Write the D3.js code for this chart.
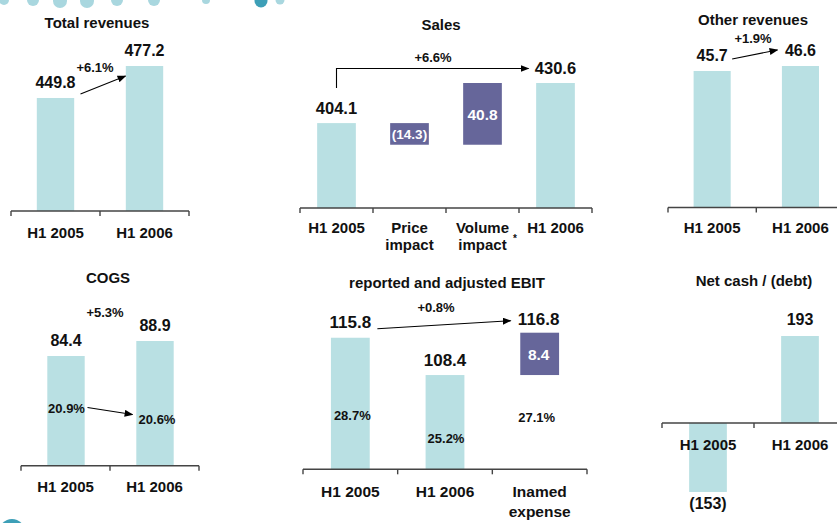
<!DOCTYPE html>
<html><head><meta charset="utf-8">
<script src="https://cdn.jsdelivr.net/npm/d3@7"></script>
<style>
body{margin:0;background:#fff}
svg{display:block}
text{font-family:'Liberation Sans',Arial,Helvetica,sans-serif;font-weight:bold;fill:#111}
</style>
</head><body>
<svg id="c" width="837" height="523"></svg>
<script>
// ---------------- data ----------------
const totalRevCategories = ["H1 2005", "H1 2006"];
const totalRevValues = [449.8, 477.2];
const totalRevChange = "+6.1%";

const salesCategories = [["H1 2005"], ["Price", "impact"], ["Volume", "impact"], ["H1 2006"]];
const salesValues = [404.1, -14.3, 40.8, 430.6];
const salesLabels = ["404.1", "(14.3)", "40.8", "430.6"];
const salesKinds = ["total", "delta", "delta", "total"];
const salesChange = "+6.6%";

const otherRevCategories = ["H1 2005", "H1 2006"];
const otherRevValues = [45.7, 46.6];
const otherRevChange = "+1.9%";

const cogsCategories = ["H1 2005", "H1 2006"];
const cogsValues = [84.4, 88.9];
const cogsShare = ["20.9%", "20.6%"];
const cogsChange = "+5.3%";

const ebitCategories = [["H1 2005"], ["H1 2006"], ["Inamed", "expense"]];
const ebitValues = [115.8, 108.4, 8.4];
const ebitAdjusted = 116.8;
const ebitMargins = ["28.7%", "25.2%", "27.1%"];
const ebitChange = "+0.8%";

const netCashCategories = ["H1 2005", "H1 2006"];
const netCashValues = [-153, 193];
const netCashLabels = ["(153)", "193"];

// ---------------- styles ----------------
const BAR = "#b9e0e3";
const PURPLE = "#66669a";
const AXIS = "#444";

const svg = d3.select("#c");

// decoration
const decoDots = [[4,0,5,"#a9d7df"],[33,0,6,"#a9d7df"],[60,1,7,"#a9d7df"],[87,1,7,"#a9d7df"],[117,0,6,"#a9d7df"],[154,0,6,"#a9d7df"],[206,0,4,"#a9d7df"],[261,1,6.5,"#3d9fb7"],[280,0,4.5,"#a9d7df"]];
svg.selectAll("circle.deco").data(decoDots).join("circle").attr("class","deco")
  .attr("cx",d=>d[0]).attr("cy",d=>d[1]).attr("r",d=>d[2]).attr("fill",d=>d[3]);
svg.append("circle").attr("cx",12).attr("cy",532).attr("r",13).attr("fill","#3d9fb7");

const defs = svg.append("defs");
defs.append("marker").attr("id","arr").attr("viewBox","0 0 10 8").attr("refX",9).attr("refY",4)
  .attr("markerWidth",9).attr("markerHeight",7).attr("markerUnits","userSpaceOnUse").attr("orient","auto")
  .append("path").attr("d","M0,0L10,4L0,8Z").attr("fill","#000");

function drawAxis(g, band, y) {
  const [a, b] = band.range();
  g.append("line").attr("x1", a).attr("x2", b).attr("y1", y).attr("y2", y)
    .attr("stroke", AXIS).attr("stroke-width", 1.4);
  const bounds = band.domain().map(d => band(d)).concat([b]);
  g.selectAll("line.tick").data(bounds).join("line").attr("class", "tick")
    .attr("x1", d => d).attr("x2", d => d).attr("y1", y).attr("y2", y + 5)
    .attr("stroke", AXIS).attr("stroke-width", 1.4);
}
function catLabels(g, band, cats, y, size, lh) {
  cats.forEach((c, i) => {
    const lines = Array.isArray(c) ? c : [c];
    const t = g.append("text").attr("text-anchor", "middle").attr("font-size", size)
      .attr("x", band(band.domain()[i]) + band.bandwidth() / 2).attr("y", y);
    lines.forEach((l, j) => t.append("tspan").attr("x", band(band.domain()[i]) + band.bandwidth() / 2)
      .attr("dy", j === 0 ? 0 : lh).text(l));
  });
}
function txt(g, x, y, s, size, fill, anchor) {
  return g.append("text").attr("x", x).attr("y", y).attr("font-size", size)
    .attr("text-anchor", anchor || "middle").style("fill", fill || "#111").text(s);
}
function arrow(g, pts) {
  g.append("path").attr("d", d3.line()(pts)).attr("fill", "none").attr("stroke", "#000")
    .attr("stroke-width", 1.1).attr("marker-end", "url(#arr)");
}
const cx = (band, i) => band(band.domain()[i]) + band.bandwidth() / 2;

// ---------------- Panel 1: Total revenues ----------------
{
  const g = svg.append("g");
  const axisY = 211;
  const x = d3.scaleBand().domain(totalRevCategories).range([11, 189]);
  const y = d3.scaleLinear().domain([353, 477.2]).range([axisY, 66]);
  const bw = x.bandwidth() * 0.42;
  g.selectAll("rect").data(totalRevValues).join("rect")
    .attr("x", (d, i) => cx(x, i) - bw / 2).attr("width", bw)
    .attr("y", d => y(d)).attr("height", d => axisY - y(d)).attr("fill", BAR);
  drawAxis(g, x, axisY);
  txt(g, 97, 28, "Total revenues", 15);
  totalRevValues.forEach((v, i) => txt(g, cx(x, i), y(v) - 10, v.toFixed(1), 16));
  txt(g, 95, 72, totalRevChange, 13);
  arrow(g, [[cx(x, 0) + 25, y(totalRevValues[0]) - 4], [cx(x, 1) - 19, y(totalRevValues[1]) + 10]]);
  catLabels(g, x, totalRevCategories, 238, 15, 17);
}

// ---------------- Panel 2: Sales (waterfall) ----------------
{
  const g = svg.append("g");
  const axisY = 208;
  const x = d3.scaleBand().domain(d3.range(salesCategories.length)).range([300, 592]);
  const y = d3.scaleLinear().domain([348, 430.6]).range([axisY, 83]);
  const bw = x.bandwidth() * 0.53;
  let run = 0;
  const segs = salesValues.map((v, i) => {
    if (salesKinds[i] === "total") { run = v; return { lo: y.domain()[0], hi: v, kind: "total" }; }
    const s = { lo: Math.min(run, run + v), hi: Math.max(run, run + v), kind: "delta" };
    run += v; return s;
  });
  g.selectAll("rect").data(segs).join("rect")
    .attr("x", (d, i) => cx(x, i) - bw / 2).attr("width", bw)
    .attr("y", d => y(d.hi)).attr("height", d => y(d.lo) - y(d.hi))
    .attr("fill", d => d.kind === "total" ? BAR : PURPLE);
  drawAxis(g, x, axisY);
  txt(g, 441, 30, "Sales", 15);
  segs.forEach((s, i) => {
    if (s.kind === "total") txt(g, cx(x, i), y(s.hi) - 9, salesLabels[i], 16.5);
    else if (salesValues[i] < 0) txt(g, cx(x, i), (y(s.hi) + y(s.lo)) / 2 + 5, salesLabels[i], 13.5, "#fff");
    else txt(g, cx(x, i), (y(s.hi) + y(s.lo)) / 2 + 6, salesLabels[i], 15.5, "#fff");
  });
  txt(g, 433, 62, salesChange, 13);
  arrow(g, [[cx(x, 0), y(salesValues[0]) - 35], [cx(x, 0), 68.5], [cx(x, 3) - 27, 68.5]]);
  catLabels(g, x, salesCategories, 233, 15, 17);
  txt(g, 515, 242, "*", 10);
}

// ---------------- Panel 3: Other revenues ----------------
{
  const g = svg.append("g");
  const axisY = 207.5;
  const x = d3.scaleBand().domain(otherRevCategories).range([668, 844.6]);
  const y = d3.scaleLinear().domain([21, 46.6]).range([axisY, 66]);
  const bw = x.bandwidth() * 0.42;
  g.selectAll("rect").data(otherRevValues).join("rect")
    .attr("x", (d, i) => cx(x, i) - bw / 2).attr("width", bw)
    .attr("y", d => y(d)).attr("height", d => axisY - y(d)).attr("fill", BAR);
  drawAxis(g, x, axisY);
  txt(g, 753, 25, "Other revenues", 15);
  otherRevValues.forEach((v, i) => txt(g, cx(x, i), y(v) - 10, v.toFixed(1), 16));
  txt(g, 753, 43, otherRevChange, 13);
  arrow(g, [[cx(x, 0) + 20, y(otherRevValues[0]) - 12], [cx(x, 1) - 23, y(otherRevValues[1]) - 16]]);
  catLabels(g, x, otherRevCategories, 233, 15, 17);
}

// ---------------- Panel 4: COGS ----------------
{
  const g = svg.append("g");
  const axisY = 465.7;
  const x = d3.scaleBand().domain(cogsCategories).range([21, 199]);
  const y = d3.scaleLinear().domain([51.5, 88.9]).range([axisY, 341]);
  const bw = x.bandwidth() * 0.42;
  g.selectAll("rect").data(cogsValues).join("rect")
    .attr("x", (d, i) => cx(x, i) - bw / 2 + 0.5).attr("width", bw)
    .attr("y", d => y(d)).attr("height", d => axisY - y(d)).attr("fill", BAR);
  drawAxis(g, x, axisY);
  txt(g, 108, 283, "COGS", 15);
  cogsValues.forEach((v, i) => txt(g, cx(x, i) + 0.5, y(v) - 10, v.toFixed(1), 16));
  txt(g, 105, 317, cogsChange, 13);
  txt(g, cx(x, 0) + 1, 413, cogsShare[0], 13);
  txt(g, cx(x, 1) + 2.5, 424, cogsShare[1], 13);
  arrow(g, [[cx(x, 0) + 22, 407.5], [cx(x, 1) - 22, 414.5]]);
  catLabels(g, x, cogsCategories, 492, 15, 17);
}

// ---------------- Panel 5: EBIT ----------------
{
  const g = svg.append("g");
  const axisY = 469.3;
  const x = d3.scaleBand().domain(d3.range(ebitCategories.length)).range([303, 587]);
  const y = d3.scaleLinear().domain([89.7, ebitAdjusted]).range([axisY, 332.7]);
  const bw = x.bandwidth() * 0.41;
  const segs = [
    { lo: y.domain()[0], hi: ebitValues[0], fill: BAR },
    { lo: y.domain()[0], hi: ebitValues[1], fill: BAR },
    { lo: ebitValues[1], hi: ebitValues[1] + ebitValues[2], fill: PURPLE }
  ];
  g.selectAll("rect").data(segs).join("rect")
    .attr("x", (d, i) => cx(x, i) - bw / 2).attr("width", bw)
    .attr("y", d => y(d.hi)).attr("height", d => y(d.lo) - y(d.hi)).attr("fill", d => d.fill);
  drawAxis(g, x, axisY);
  txt(g, 447, 288, "reported and adjusted EBIT", 15);
  txt(g, cx(x, 0), y(ebitValues[0]) - 10, ebitValues[0].toFixed(1), 17);
  txt(g, cx(x, 1), y(ebitValues[1]) - 9, ebitValues[1].toFixed(1), 17);
  txt(g, cx(x, 2) - 1, y(ebitAdjusted) - 8, ebitAdjusted.toFixed(1), 17);
  txt(g, cx(x, 2) - 1, (y(segs[2].hi) + y(segs[2].lo)) / 2 + 6, ebitValues[2].toFixed(1), 15.5, "#fff");
  txt(g, 436, 312, ebitChange, 13);
  txt(g, cx(x, 0) + 2, 420, ebitMargins[0], 13);
  txt(g, cx(x, 1) + 1, 443, ebitMargins[1], 13);
  txt(g, cx(x, 2) - 3, 422, ebitMargins[2], 13);
  arrow(g, [[cx(x, 0) + 27, y(ebitValues[0]) - 9], [cx(x, 2) - 29, y(ebitAdjusted) - 12]]);
  catLabels(g, x, ebitCategories, 497, 15.5, 20);
}

// ---------------- Panel 6: Net cash / (debt) ----------------
{
  const g = svg.append("g");
  const axisY = 423;
  const x = d3.scaleBand().domain(netCashCategories).range([662, 846]);
  const y = d3.scaleLinear().domain([0, 193]).range([axisY, 336]);
  const bw = x.bandwidth() * 0.41;
  g.selectAll("rect").data(netCashValues).join("rect")
    .attr("x", (d, i) => cx(x, i) - bw / 2).attr("width", bw)
    .attr("y", d => Math.min(y(d), y(0))).attr("height", d => Math.abs(y(d) - y(0))).attr("fill", BAR);
  drawAxis(g, x, axisY);
  txt(g, 754, 286, "Net cash / (debt)", 15);
  netCashValues.forEach((v, i) => {
    if (v >= 0) txt(g, cx(x, i), y(v) - 11, netCashLabels[i], 16);
    else txt(g, cx(x, i), y(v) + 17, netCashLabels[i], 16);
  });
  catLabels(g, x, netCashCategories, 450, 15, 17);
}
</script>
</body></html>
